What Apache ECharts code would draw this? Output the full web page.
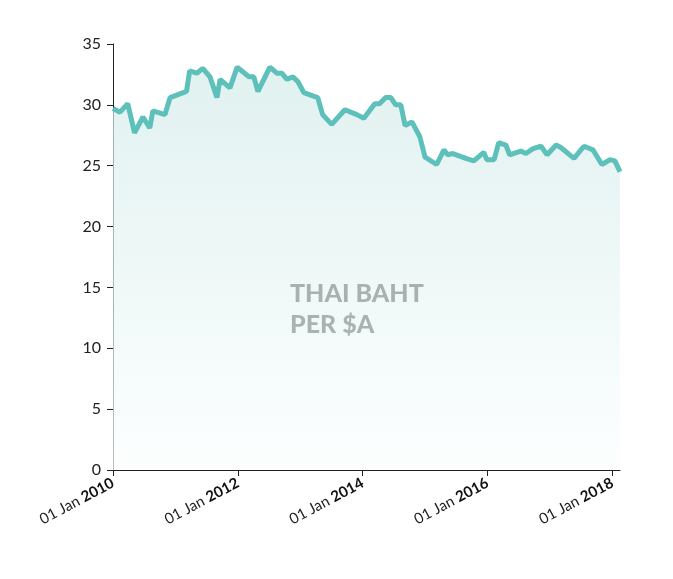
<!DOCTYPE html>
<html><head><meta charset="utf-8">
<script src="https://cdn.jsdelivr.net/npm/echarts@6/dist/echarts.min.js"></script>
<style>html,body{margin:0;padding:0;background:#fff}#c{width:673px;height:579px}</style>
</head><body><div id="c"></div>
<script>
const dates = ["2010-01-01","2010-02-11","2010-03-28","2010-05-07","2010-06-25","2010-08-04","2010-08-22","2010-11-01","2010-12-01","2011-03-07","2011-03-25","2011-05-06","2011-06-10","2011-07-22","2011-09-01","2011-09-19","2011-11-16","2011-12-28","2012-02-01","2012-03-07","2012-04-04","2012-04-28","2012-07-07","2012-08-17","2012-09-15","2012-10-15","2012-11-19","2012-12-19","2013-01-22","2013-04-13","2013-05-12","2013-07-04","2013-09-19","2013-11-28","2014-01-08","2014-03-13","2014-04-10","2014-05-16","2014-06-15","2014-07-13","2014-08-12","2014-09-06","2014-10-16","2014-12-01","2015-01-01","2015-03-10","2015-04-21","2015-05-13","2015-06-12","2015-08-28","2015-10-13","2015-12-10","2015-12-28","2016-02-09","2016-03-07","2016-04-18","2016-05-10","2016-07-15","2016-08-13","2016-09-24","2016-11-10","2016-12-16","2017-02-06","2017-03-06","2017-05-22","2017-07-19","2017-09-10","2017-11-01","2017-12-19","2018-01-16","2018-02-15"];
const values = [29.7,29.4,30.1,27.7,29.0,28.1,29.5,29.2,30.6,31.1,32.8,32.6,33.0,32.3,30.6,32.1,31.4,33.1,32.7,32.3,32.3,31.1,33.1,32.6,32.6,32.1,32.3,31.9,31.0,30.6,29.2,28.4,29.6,29.2,28.9,30.1,30.1,30.6,30.6,30.0,30.0,28.3,28.6,27.4,25.7,25.1,26.3,25.9,26.0,25.6,25.4,26.1,25.5,25.5,26.9,26.7,25.9,26.2,26.0,26.4,26.6,25.9,26.7,26.5,25.6,26.6,26.3,25.1,25.5,25.4,24.5];
const tickYears = [2010,2012,2014,2016,2018];
const title = "THAI BAHT\nPER $A";
const font = "Lato";
function decYear(s){const d=new Date(s+'T00:00:00Z');const y=d.getUTCFullYear();const a=Date.UTC(y,0,1),b=Date.UTC(y+1,0,1);return y+(d-a)/(b-a);}
const chart = echarts.init(document.getElementById('c'));
chart.setOption({
  animation:false,
  grid:{left:113,right:53,top:44,bottom:109},
  graphic:[{type:'text',left:290,top:278,style:{text:title,font:'900 25px '+font,fill:'#111',align:'center',lineHeight:31}}],
  xAxis:{type:'value',min:tickYears[0],max:decYear('2018-02-15'),interval:2,
    axisLine:{lineStyle:{color:'#222'}},
    axisTick:{length:6,lineStyle:{color:'#222'}},
    splitLine:{show:false},
    axisLabel:{rotate:28,margin:12,showMaxLabel:false,fontFamily:font,fontSize:15,color:'#222',
      formatter:function(v){return tickYears.indexOf(Math.round(v))>=0&&Math.abs(v-Math.round(v))<1e-6?'{a|01 Jan }{b|'+Math.round(v)+'}':'';},
      rich:{a:{fontFamily:font,fontSize:15,color:'#222'},b:{fontFamily:font,fontSize:15,fontWeight:'bold',color:'#111'}}}},
  yAxis:{type:'value',min:0,max:35,interval:5,
    axisLine:{show:true,lineStyle:{color:'#222'}},axisTick:{show:true,length:6,lineStyle:{color:'#222'}},
    splitLine:{show:false},axisLabel:{fontFamily:font,fontSize:16,color:'#222',margin:12}},
  series:[{type:'line',data:dates.map((d,i)=>[decYear(d),values[i]]),showSymbol:false,
    lineStyle:{color:'#5dc0bb',width:5},
    areaStyle:{color:new echarts.graphic.LinearGradient(0,0,0,1,[{offset:0,color:'#d3ebe9'},{offset:1,color:'#fbfefe'}])}}]
});
</script></body></html>
